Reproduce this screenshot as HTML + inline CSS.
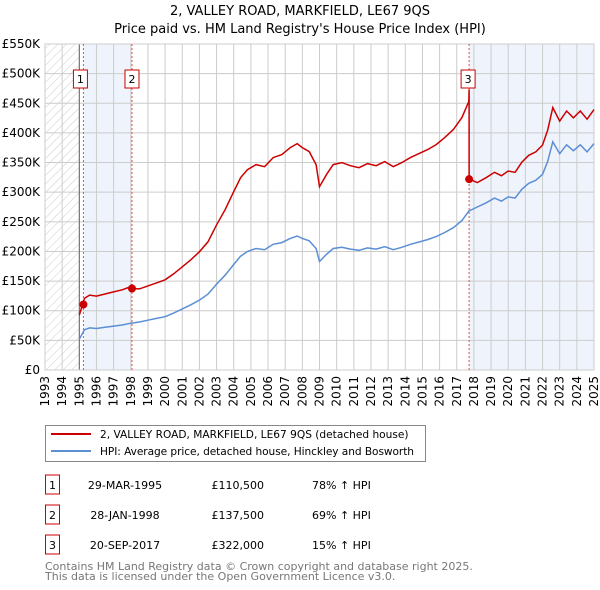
<!DOCTYPE html>
<html><head><meta charset="utf-8"><style>
body{margin:0;background:#fff;font-family:"DejaVu Sans","Liberation Sans",sans-serif;}
#wrap{position:relative;width:600px;height:590px;overflow:hidden}
</style></head><body><div id="wrap">
<svg id="chart" width="600" height="590" xmlns="http://www.w3.org/2000/svg" font-family="DejaVu Sans, Liberation Sans, sans-serif">
<defs><pattern id="hatch" width="6" height="6" patternUnits="userSpaceOnUse" patternTransform="rotate(45)"><line x1="0" y1="0" x2="0" y2="6" stroke="#ccc" stroke-width="1"/></pattern></defs>
<text x="300" y="15" text-anchor="middle" font-size="13">2, VALLEY ROAD, MARKFIELD, LE67 9QS</text>
<text x="300" y="33" text-anchor="middle" font-size="13">Price paid vs. HM Land Registry's House Price Index (HPI)</text>
<g id="plot"></g>
<g>
<rect x="45.5" y="425.5" width="380" height="36" fill="#fff" stroke="#888"/>
<line x1="51" y1="434" x2="91" y2="434" stroke="#cc0000" stroke-width="2"/>
<text x="100" y="438" font-size="10.6">2, VALLEY ROAD, MARKFIELD, LE67 9QS (detached house)</text>
<line x1="51" y1="451" x2="91" y2="451" stroke="#5b8fd4" stroke-width="2"/>
<text x="100" y="455" font-size="10.6" textLength="314">HPI: Average price, detached house, Hinckley and Bosworth</text>
</g>
<g id="table" font-size="11"></g>
<text x="45" y="570" font-size="11" fill="#777">Contains HM Land Registry data © Crown copyright and database right 2025.</text>
<text x="45" y="580" font-size="11" fill="#777">This data is licensed under the Open Government Licence v3.0.</text>
</svg></div>
<script>
const yTicks=[0,50000,100000,150000,200000,250000,300000,350000,400000,450000,500000,550000];
const yTickLabels=["£0","£50K","£100K","£150K","£200K","£250K","£300K","£350K","£400K","£450K","£500K","£550K"];
const xYears=[1993,1994,1995,1996,1997,1998,1999,2000,2001,2002,2003,2004,2005,2006,2007,2008,2009,2010,2011,2012,2013,2014,2015,2016,2017,2018,2019,2020,2021,2022,2023,2024,2025];
const hpiDates=[1995.0,1995.3,1995.6,1996.0,1996.5,1997.0,1997.5,1998.0,1998.5,1999.0,1999.5,2000.0,2000.5,2001.0,2001.5,2002.0,2002.5,2003.0,2003.5,2004.0,2004.4,2004.8,2005.3,2005.8,2006.3,2006.8,2007.3,2007.7,2008.0,2008.4,2008.8,2009.0,2009.4,2009.8,2010.3,2010.8,2011.3,2011.8,2012.3,2012.8,2013.3,2013.8,2014.3,2014.8,2015.3,2015.8,2016.3,2016.8,2017.3,2017.7,2018.2,2018.7,2019.2,2019.6,2020.0,2020.4,2020.8,2021.2,2021.6,2022.0,2022.3,2022.6,2023.0,2023.4,2023.8,2024.2,2024.6,2025.0];
const hpiValues=[52000,68000,71000,70000,72000,74000,76000,79000,81000,84000,87000,90000,96000,103000,110000,118000,128000,145000,160000,178000,192000,200000,205000,203000,212000,215000,222000,226000,222000,218000,205000,183000,195000,205000,207000,204000,202000,206000,204000,208000,203000,207000,212000,216000,220000,225000,232000,240000,252000,268000,275000,282000,290000,285000,292000,290000,305000,315000,320000,330000,352000,385000,365000,380000,370000,380000,368000,382000];
const saleDates=[1995.24,1998.07,2017.72];
const salePrices=[110500,137500,322000];
const saleRatios=[1.78,1.69,1.15];
const saleLabels=["29-MAR-1995","28-JAN-1998","20-SEP-2017"];
const salePriceLabels=["£110,500","£137,500","£322,000"];
const saleHpiLabels=["78% ↑ HPI","69% ↑ HPI","15% ↑ HPI"];

const X0=45,X1=594,Y0=370,Y1=44;
const xs=y=>X0+(y-1993)/(2025-1993)*(X1-X0);
const ys=v=>Y0-v/550000*(Y0-Y1);
const NS="http://www.w3.org/2000/svg";
const plot=document.getElementById('plot');
function mk(tag,attrs,parent){const e=document.createElementNS(NS,tag);for(const k in attrs)e.setAttribute(k,attrs[k]);(parent||plot).appendChild(e);return e;}

let r=mk('rect',{x:X0,y:Y1,width:X1-X0,height:Y0-Y1,fill:'#fff'});


r=mk('rect',{x:X0,y:Y1,width:xs(1995)-X0,height:Y0-Y1,fill:'url(#hatch)'});


r=mk('rect',{x:xs(saleDates[0]),y:Y1,width:xs(saleDates[1])-xs(saleDates[0]),height:Y0-Y1,fill:'#eef3fc'});


r=mk('rect',{x:xs(saleDates[2]),y:Y1,width:X1-xs(saleDates[2]),height:Y0-Y1,fill:'#eef3fc'});



yTicks.forEach((v,i)=>{
 const l=mk('line',{x1:X0,x2:X1,y1:ys(v),y2:ys(v),stroke:'#ccc','stroke-width':1});
 
 
 const t=mk('text',{x:40,y:ys(v)+4,'text-anchor':'end','font-size':12});
 t.textContent=yTickLabels[i];
 
 
});
xYears.forEach(y=>{
 const l=mk('line',{x1:xs(y),x2:xs(y),y1:Y1,y2:Y0,stroke:'#ccc','stroke-width':1});
 
 
 const t=mk('text',{x:0,y:0,'text-anchor':'end','font-size':12,transform:`translate(${xs(y)+4},376) rotate(-90)`});
 t.textContent=y;
 
 
});
let vl=mk('line',{x1:xs(1995),x2:xs(1995),y1:Y1,y2:Y0,stroke:'#666','stroke-width':1});


let fr=mk('rect',{x:X0,y:Y1,width:X1-X0,height:Y0-Y1,fill:'none',stroke:'#ccc'});



saleDates.forEach((d,i)=>{
 const l=mk('line',{x1:xs(d),x2:xs(d),y1:Y1,y2:Y0,stroke:'#e05050','stroke-width':1,'stroke-dasharray':'2,2'});
 
 
});

const hp=hpiDates.map((d,i)=>xs(d).toFixed(1)+','+ys(hpiValues[i]).toFixed(1)).join(' ');
const hl=mk('polyline',{points:hp,fill:'none',stroke:'#5b8fd4','stroke-width':1.5});



let pts=[];
saleDates.forEach((d,i)=>{
 const end=i<saleDates.length-1?saleDates[i+1]:2026;
 const start=i===0?1995:d;
 hpiDates.forEach((hd,j)=>{ if(hd>=start && hd<end) pts.push([hd,hpiValues[j]*saleRatios[i]]); });
 if(i<saleDates.length-1){ pts.push([saleDates[i+1],salePrices[i+1]/saleRatios[i+1]*saleRatios[i]]); pts.push([saleDates[i+1],salePrices[i+1]]); }
});
const pl=mk('polyline',{points:pts.map(p=>xs(p[0]).toFixed(1)+','+ys(p[1]).toFixed(1)).join(' '),fill:'none',stroke:'#cc0000','stroke-width':1.5});



saleDates.forEach((d,i)=>{
 const c=mk('circle',{cx:xs(d),cy:ys(salePrices[i]),r:4,fill:'#cc0000'});
 
 
 const b=mk('rect',{x:xs(d)-14,y:70,width:14,height:18,fill:'#fff',stroke:'#cc0000'});
 b.setAttribute('x',xs(d)-(i===2?8:7)-(i===0?3:0));
 
 
 const t=mk('text',{x:+b.getAttribute('x')+7,y:83,'text-anchor':'middle','font-size':11});
 t.textContent=i+1;
 
 
});

const tbl=document.getElementById('table');
saleDates.forEach((d,i)=>{
 const y=483+i*30;
 const b=mk('rect',{x:45.5,y:y-8,width:14,height:19,fill:'#fff',stroke:'#cc0000'},tbl);
 
 
 const t0=mk('text',{x:52.5,y:y+6,'text-anchor':'middle'},tbl);t0.textContent=i+1;
 
 
 const t1=mk('text',{x:125,y:y+6,'text-anchor':'middle'},tbl);t1.textContent=saleLabels[i];
 
 
 const t2=mk('text',{x:264,y:y+6,'text-anchor':'end'},tbl);t2.textContent=salePriceLabels[i];
 
 
 const t3=mk('text',{x:312,y:y+6},tbl);t3.textContent=saleHpiLabels[i];
 
 
});
</script>
</body></html>
